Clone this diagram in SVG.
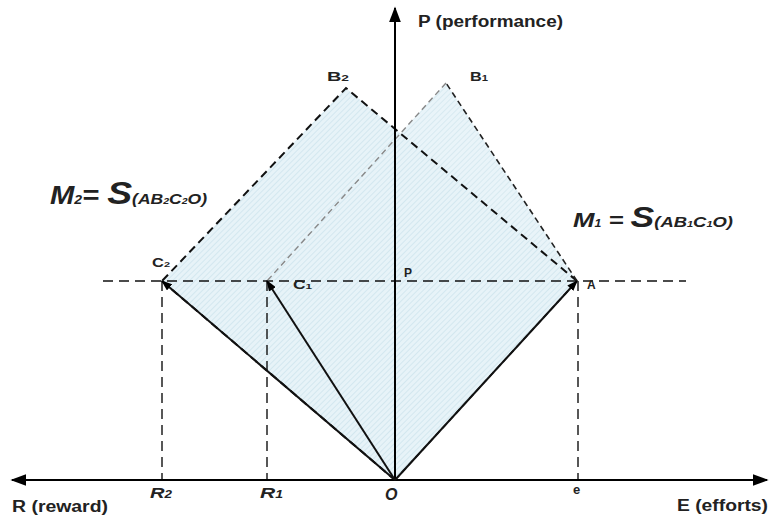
<svg xmlns="http://www.w3.org/2000/svg" width="771" height="517" viewBox="0 0 771 517">
<style>
  text { font-family: "Liberation Sans", Arial, sans-serif; font-weight: bold; fill: #222; }
  .it { font-style: italic; }
  .edge { fill: none; stroke: #111; stroke-width: 2; stroke-dasharray: 8 5; }
  .edge2 { fill: none; stroke: #222; stroke-width: 1.6; stroke-dasharray: 6 4; }
  .edgeg { fill: none; stroke: #888; stroke-width: 1.4; stroke-dasharray: 6 4; }
  .guide { fill: none; stroke: #111; stroke-width: 1.4; stroke-dasharray: 10 6; }
  .vec { fill: none; stroke: #111; stroke-width: 2; marker-end: url(#ah); }
  .axis { fill: none; stroke: #000; stroke-width: 2; }
</style>
<defs>
  <pattern id="hatch" width="4" height="4" patternUnits="userSpaceOnUse" patternTransform="rotate(45)">
    <rect width="4" height="4" fill="#e7f3f8"/>
    <line x1="0" y1="0" x2="0" y2="4" stroke="#bfdbe6" stroke-width="1"/>
  </pattern>
  <marker id="ah" viewBox="0 0 10 10" refX="9" refY="5" markerWidth="11" markerHeight="8" orient="auto" markerUnits="userSpaceOnUse" preserveAspectRatio="none">
    <path d="M0,0 L10,5 L0,10 z" fill="#000"/>
  </marker>
  <marker id="axh" viewBox="0 0 10 10" refX="9" refY="5" markerWidth="16" markerHeight="12" orient="auto" markerUnits="userSpaceOnUse" preserveAspectRatio="none">
    <path d="M0,0 L10,5 L0,10 z" fill="#000"/>
  </marker>
</defs>

<g id="region2">
  <polygon points="577,281 346,88 162,281 395,480" fill="url(#hatch)"/>
</g>
<g id="region1">
  <polygon points="577,281 446,83 267,281 395,480" fill="url(#hatch)" opacity="0.9"/>
</g>

<g id="connectors">
  <line class="guide" x1="103" y1="281" x2="686" y2="281"/>
  <line class="guide" x1="162" y1="281" x2="162" y2="480"/>
  <line class="guide" x1="267" y1="281" x2="267" y2="480"/>
  <line class="guide" x1="578" y1="281" x2="578" y2="480"/>
  <polyline class="edge" points="577,281 346,88 162,281"/>
  <line class="edge" x1="162" y1="281" x2="395" y2="480"/>
  <line class="edge2" x1="577" y1="281" x2="446" y2="83"/>
  <line class="edgeg" x1="446" y1="83" x2="267" y2="281"/>
  <line class="edge2" x1="395" y1="480" x2="577" y2="281"/>
  <line class="axis" x1="395" y1="480" x2="395" y2="8" marker-end="url(#axh)"/>
  <line class="axis" x1="395" y1="480" x2="767" y2="480" marker-end="url(#axh)"/>
  <line class="axis" x1="395" y1="480" x2="12" y2="480" marker-end="url(#axh)"/>
  <line class="vec" x1="395" y1="480" x2="162" y2="281"/>
  <line class="vec" x1="395" y1="480" x2="267" y2="281"/>
  <line class="vec" x1="395" y1="480" x2="577" y2="281"/>
</g>

<g id="labels">
  <text x="418" y="27" font-size="16" textLength="145" lengthAdjust="spacingAndGlyphs">P (performance)</text>
  <text x="327" y="81" font-size="13" textLength="22" lengthAdjust="spacingAndGlyphs">B<tspan font-size="9">2</tspan></text>
  <text x="470" y="81" font-size="13" textLength="18" lengthAdjust="spacingAndGlyphs">B<tspan font-size="9">1</tspan></text>
  <text x="152" y="267" font-size="12" textLength="18" lengthAdjust="spacingAndGlyphs">C<tspan font-size="8">2</tspan></text>
  <text x="293" y="289" font-size="12" textLength="19" lengthAdjust="spacingAndGlyphs">C<tspan font-size="8">1</tspan></text>
  <text x="404" y="277" font-size="12">P</text>
  <text x="587" y="289" font-size="12">A</text>
  <text x="50" y="204" class="it" textLength="157" lengthAdjust="spacingAndGlyphs"><tspan font-size="25">M</tspan><tspan font-size="12">2</tspan><tspan font-size="25">= </tspan><tspan font-size="32">S</tspan><tspan font-size="15">(AB</tspan><tspan font-size="9">2</tspan><tspan font-size="15">C</tspan><tspan font-size="9">2</tspan><tspan font-size="15">O)</tspan></text>
  <text x="573" y="227" class="it" textLength="160" lengthAdjust="spacingAndGlyphs"><tspan font-size="21">M</tspan><tspan font-size="10">1</tspan><tspan font-size="21"> = </tspan><tspan font-size="29">S</tspan><tspan font-size="15">(AB</tspan><tspan font-size="9">1</tspan><tspan font-size="15">C</tspan><tspan font-size="9">1</tspan><tspan font-size="15">O)</tspan></text>
  <text x="150" y="498" font-size="15" class="it" textLength="22" lengthAdjust="spacingAndGlyphs">R<tspan font-size="10">2</tspan></text>
  <text x="260" y="498" font-size="15" class="it" textLength="23" lengthAdjust="spacingAndGlyphs">R<tspan font-size="10">1</tspan></text>
  <text x="385" y="500" font-size="16" class="it">O</text>
  <text x="573" y="494" font-size="13">e</text>
  <text x="12" y="512" font-size="16" textLength="96" lengthAdjust="spacingAndGlyphs">R (reward)</text>
  <text x="677" y="511" font-size="16" textLength="91" lengthAdjust="spacingAndGlyphs">E (efforts)</text>
</g>
</svg>
